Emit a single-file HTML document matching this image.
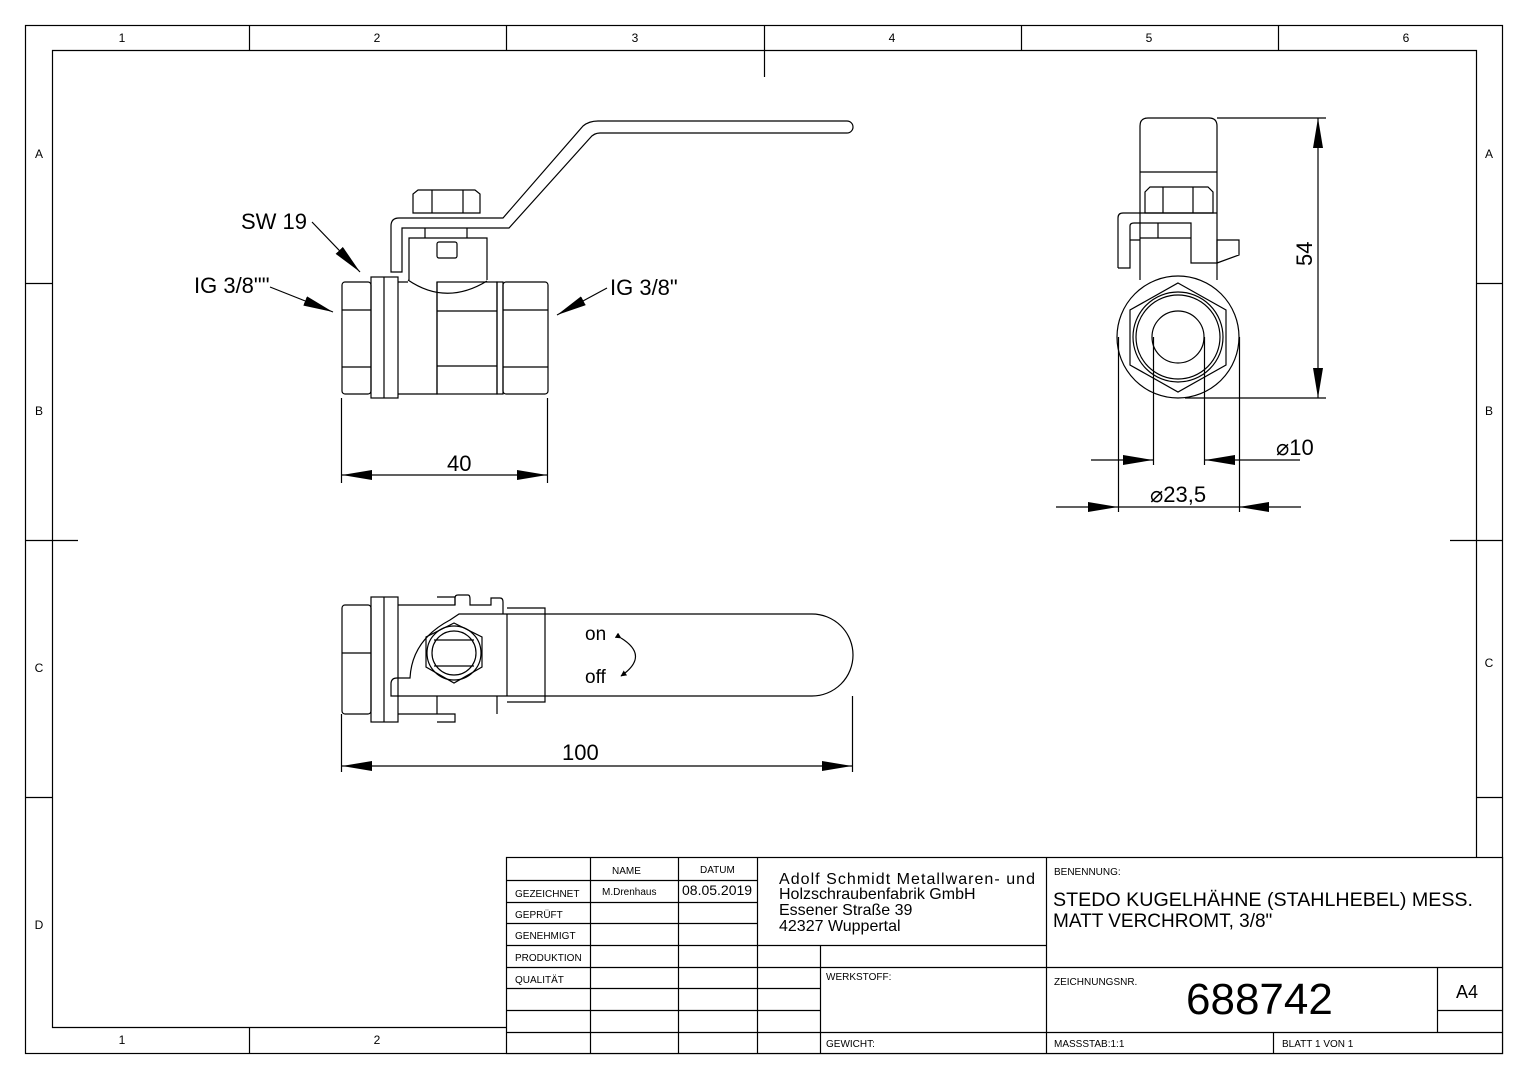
<!DOCTYPE html>
<html><head><meta charset="utf-8"><style>
html,body{margin:0;padding:0;background:#fff}
svg{display:block}
text{font-family:"Liberation Sans","DejaVu Sans",sans-serif;fill:#000}
</style></head><body>
<svg width="1528" height="1080" viewBox="0 0 1528 1080" xmlns="http://www.w3.org/2000/svg">
<defs>
<marker id="a" viewBox="0 0 30 10" refX="30" refY="5" markerWidth="30" markerHeight="10" markerUnits="userSpaceOnUse" orient="auto"><path d="M0,0L30,5L0,10z" fill="#000"/></marker>
<marker id="s" viewBox="0 0 10 10" refX="9" refY="5" markerWidth="6" markerHeight="6" markerUnits="userSpaceOnUse" orient="auto"><path d="M0,0L10,5L0,10z" fill="#000"/></marker>
</defs>
<g fill="none" stroke="#000" stroke-width="1.2">
<!-- frame -->
<rect x="25.5" y="25.5" width="1477" height="1028"/>
<path d="M506.5 1027.5H52.5V50.5H1476.5V857.5"/>
<path d="M249.5 25V50M506.5 25V50M764.5 25V77M1021.5 25V50M1278.5 25V50M249.5 1027V1053M25 283.5H52M25 540.5H78M25 797.5H52M1476 283.5H1502M1450 540.5H1502M1476 797.5H1502"/>
<!-- title block -->
<rect x="506.5" y="857.5" width="996" height="196" fill="#fff"/>
<path d="M506 880.5H757M506 902.5H757M506 923.5H757M506 945.5H1046M506 967.5H1502M506 988.5H820M506 1010.5H820M1437 1010.5H1502M506 1032.5H1502"/>
<path d="M590.5 857V1053M678.5 857V1053M757.5 857V1053M820.5 945V1053M1046.5 857V1053M1273.5 1032V1053M1437.5 967V1032"/>
</g>
<g font-size="10">
<text x="612" y="874">NAME</text><text x="700" y="873">DATUM</text>
<text x="515" y="897">GEZEICHNET</text><text x="602" y="895">M.Drenhaus</text>
<text x="515" y="918">GEPRÜFT</text><text x="515" y="939">GENEHMIGT</text>
<text x="515" y="961">PRODUKTION</text><text x="515" y="983">QUALITÄT</text>
<text x="826" y="980">WERKSTOFF:</text><text x="826" y="1047">GEWICHT:</text>
<text x="1054" y="875">BENENNUNG:</text><text x="1054" y="985">ZEICHNUNGSNR.</text>
<text x="1054" y="1047">MASSSTAB:1:1</text><text x="1282" y="1047">BLATT 1 VON 1</text>
</g>
<text x="682" y="895" font-size="14">08.05.2019</text>
<g font-size="16"><text x="779" y="884" textLength="256">Adolf Schmidt Metallwaren- und</text><text x="779" y="899">Holzschraubenfabrik GmbH</text><text x="779" y="915">Essener Straße 39</text><text x="779" y="931">42327 Wuppertal</text></g>
<g font-size="19"><text x="1053" y="906" textLength="420" lengthAdjust="spacingAndGlyphs">STEDO KUGELHÄHNE (STAHLHEBEL) MESS.</text><text x="1053" y="927">MATT VERCHROMT, 3/8"</text></g>
<text x="1186" y="1014" font-size="44">688742</text>
<text x="1456" y="998" font-size="18">A4</text>
<g font-size="12" text-anchor="middle">
<text x="122" y="42">1</text><text x="377" y="42">2</text><text x="635" y="42">3</text><text x="892" y="42">4</text><text x="1149" y="42">5</text><text x="1406" y="42">6</text>
<text x="122" y="1044">1</text><text x="377" y="1044">2</text>
<text x="39" y="158">A</text><text x="39" y="415">B</text><text x="39" y="672">C</text><text x="39" y="929">D</text>
<text x="1489" y="158">A</text><text x="1489" y="415">B</text><text x="1489" y="667">C</text>
</g>

<g fill="none" stroke="#000" stroke-width="1.2">
<!-- FRONT VIEW -->
<rect x="342" y="282" width="29" height="112" rx="3"/>
<path d="M342 310H371M342 367H371"/>
<rect x="371" y="277" width="27" height="121"/><path d="M384 277V398"/>
<path d="M398 282H408M398 394H437V282"/>
<path d="M408 280Q446 306 487 281"/>
<rect x="437" y="282" width="60" height="112"/>
<path d="M437 311H497M437 366H497"/>
<rect x="497" y="282" width="6" height="112"/>
<rect x="503" y="282" width="45" height="112" rx="3"/>
<path d="M503 310H548M503 367H548"/>
<path d="M409 280V238H487V280"/>
<rect x="437" y="242" width="20" height="16" rx="2"/>
<path d="M425 228V238M467 228V238"/>
<path d="M402 272H391V226Q391 218 399 218H503L583 126Q589 121 598 121H847A6 6 0 0 1 847 133H600Q594 133 590 138L509 228H402V272Z"/>
<path d="M413 213V194L418 190H475L480 194V213ZM432 190V213M463 190V213"/>
<!-- leaders front -->
<path d="M312 222L360 272" marker-end="url(#a)"/>
<path d="M270 287L333 312" marker-end="url(#a)"/>
<path d="M607 288L557 315" marker-end="url(#a)"/>
<!-- dim 40 -->
<path d="M341.5 398V483M547.5 398V483"/>
<path d="M400 475H342" marker-end="url(#a)"/><path d="M490 475H547" marker-end="url(#a)"/><path d="M400 475H490"/>

<!-- SIDE VIEW -->
<path d="M1140 280V126Q1140 118 1148 118H1209Q1217 118 1217 126V280M1140 172H1217"/>
<path d="M1145 213V192L1150 187H1208L1213 192V213ZM1163 187V213M1193 187V213"/>
<path d="M1118 268V218Q1118 213 1123 213H1217M1118 268H1130V240H1140M1132 240H1140M1130 240V226Q1130 223 1134 223H1191V263H1217V240H1239V255L1217 263M1158 223V238M1140 238H1191"/>
<circle cx="1178" cy="337" r="61"/>
<polygon points="1178,283 1226,310 1226,365 1178,392 1130,365 1130,310"/>
<circle cx="1178" cy="337" r="45"/><circle cx="1178" cy="337" r="42"/>
<circle cx="1178" cy="337" r="26"/>
<path d="M1118.5 337V512M1239.5 337V512M1153.5 337V465M1204.5 337V465"/>
<path d="M1217 118H1326M1185 398H1326"/>
<path d="M1318 250V118" marker-end="url(#a)"/><path d="M1318 270V398" marker-end="url(#a)"/><path d="M1318 250V270"/>
<path d="M1091 460H1153" marker-end="url(#a)"/><path d="M1300 460H1205" marker-end="url(#a)"/>
<path d="M1056 507H1118" marker-end="url(#a)"/><path d="M1301 507H1239" marker-end="url(#a)"/><path d="M1118 507H1239"/>

<!-- BOTTOM VIEW -->
<rect x="342" y="605" width="29" height="109" rx="3"/>
<path d="M342 653H371"/>
<rect x="371" y="597" width="27" height="125"/><path d="M384 597V722"/>
<path d="M398 605H437M398 714H437"/>
<path d="M437 597H455V605H437M437 714H455V722H437"/>
<path d="M455 605V598Q455 595 458 595H468Q470 595 470 599V605H491V598H500Q503 598 503 602V614"/>
<path d="M507 608H545V702H507"/>
<path d="M391 696V684Q391 678 397 678H410Q412 640 450 620L459 614H812A41 41 0 0 1 812 696H391Z"/>
<path d="M507 614V696M437 696V714M497 696V714"/>
<polygon points="454,624 482,638 482,668 454,684 426,668 426,638" transform="translate(0,-1)"/>
<circle cx="454" cy="653" r="27"/><circle cx="454" cy="653" r="22"/>
<path d="M434 640H474M434 666H474"/>
<path d="M621 638Q650 656 621 676" marker-start="url(#s)" marker-end="url(#s)"/>
<path d="M341.5 714V772M852.5 696V772"/>
<path d="M560 766H342" marker-end="url(#a)"/><path d="M600 766H852" marker-end="url(#a)"/><path d="M560 766H600"/>
</g>
<g font-size="22">
<text x="241" y="229">SW 19</text>
<text x="194" y="293">IG 3/8""</text>
<text x="610" y="295">IG 3/8"</text>
<text x="447" y="471">40</text>
<text x="1276" y="455">⌀10</text>
<text x="1150" y="502">⌀23,5</text>
<text x="562" y="760">100</text>
<text transform="translate(1312,266) rotate(-90)">54</text>
</g>
<g font-size="19"><text x="585" y="640">on</text><text x="585" y="683">off</text></g>
</svg>
</body></html>
